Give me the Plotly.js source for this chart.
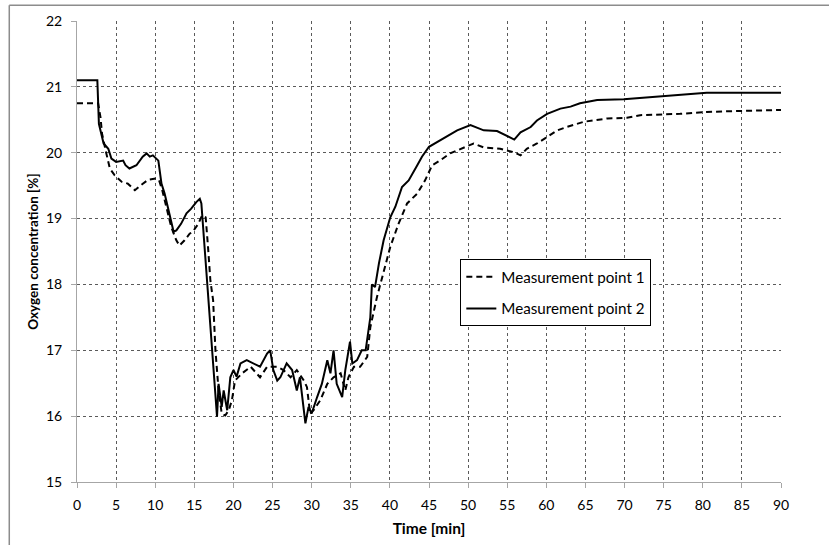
<!DOCTYPE html>
<html>
<head>
<meta charset="utf-8">
<script src="https://cdn.plot.ly/plotly-3.0.1.min.js"></script>
<style>
  html, body { margin: 0; padding: 0; background: #fff; }
  #chart { width: 829px; height: 545px; }
</style>
</head>
<body>
<div id="chart"></div>
<script>
// Measurement point 1 (dashed)
const t1 = [0, 2.7, 3.0, 3.2, 3.65, 4.2, 4.8, 5.7, 6.5, 7.4, 8.2, 9.1, 10.1, 10.5, 10.9, 11.4, 12.05, 12.7, 13.1, 13.75, 14.4, 14.8, 15.5, 16.0, 16.45, 16.75, 17.05, 17.4, 17.7, 18.1, 18.5, 18.95, 19.4, 19.8, 20.2, 21.1, 22.2, 23.4, 24.3, 25.6, 26.4, 27.3, 28.1, 29.0, 29.4, 29.8, 30.25, 31.1, 32.0, 32.8, 33.7, 34.3, 34.7, 35.4, 36.2, 37.1, 37.5, 38.35, 39.2, 40.05, 41.1, 42.2, 43.5, 44.5, 45.4, 46.4, 47.7, 49.0, 50.7, 52.0, 54.1, 55.8, 56.7, 57.5, 58.8, 60.1, 61.4, 62.6, 64.8, 67.8, 70.3, 72.0, 74.6, 77.1, 80.5, 84.8, 90];
const y1 = [20.75, 20.75, 20.54, 20.29, 20.04, 19.76, 19.66, 19.56, 19.53, 19.43, 19.51, 19.59, 19.61, 19.58, 19.43, 19.18, 18.87, 18.67, 18.59, 18.67, 18.77, 18.80, 18.92, 19.05, 19.02, 18.57, 18.06, 17.76, 17.0, 16.39, 16.04, 16.01, 16.09, 16.24, 16.54, 16.65, 16.75, 16.59, 16.75, 16.75, 16.70, 16.59, 16.70, 16.54, 16.44, 16.04, 16.09, 16.24, 16.49, 16.59, 16.65, 16.39, 16.59, 16.75, 16.75, 16.90, 17.35, 17.81, 18.2, 18.57, 18.92, 19.23, 19.38, 19.58, 19.81, 19.88, 19.99, 20.06, 20.14, 20.08, 20.06, 20.01, 19.96, 20.06, 20.14, 20.24, 20.34, 20.39, 20.47, 20.52, 20.53, 20.57, 20.58, 20.59, 20.62, 20.63, 20.65];

// Measurement point 2 (solid)
const t2 = [0, 2.6, 2.8, 3.1, 3.4, 4.0, 4.4, 5.0, 5.9, 6.2, 6.7, 7.6, 8.4, 8.9, 9.3, 9.7, 10.4, 10.8, 11.2, 11.6, 12.1, 12.35, 12.7, 13.3, 14.0, 14.6, 15.25, 15.7, 15.9, 16.3, 16.65, 17.0, 17.5, 17.9, 18.1, 18.5, 18.75, 19.2, 19.6, 20.0, 20.4, 20.9, 21.7, 22.6, 23.4, 24.3, 24.7, 25.1, 25.6, 26.0, 26.8, 27.5, 28.1, 28.5, 29.0, 29.2, 29.6, 30.0, 30.7, 31.3, 32.0, 32.4, 32.8, 33.2, 33.9, 34.3, 34.9, 35.2, 35.8, 36.4, 36.9, 37.5, 37.7, 38.1, 38.6, 39.2, 40.05, 40.7, 41.55, 42.4, 43.5, 44.1, 45.0, 46.0, 47.3, 48.6, 50.3, 52.0, 53.7, 55.0, 55.9, 56.7, 58.0, 58.8, 60.1, 61.8, 63.1, 64.3, 66.5, 69.9, 72.9, 75.4, 78.0, 80.5, 84.8, 90];
const y2 = [21.1, 21.1, 20.44, 20.29, 20.14, 20.06, 19.91, 19.86, 19.88, 19.81, 19.76, 19.81, 19.94, 19.99, 19.94, 19.96, 19.88, 19.53, 19.38, 19.18, 18.92, 18.80, 18.82, 18.92, 19.08, 19.15, 19.25, 19.30, 19.23, 18.57, 17.96, 17.5, 16.6, 15.99, 16.49, 16.14, 16.39, 16.09, 16.59, 16.70, 16.6, 16.80, 16.85, 16.80, 16.75, 16.95, 17.0, 16.70, 16.54, 16.59, 16.80, 16.70, 16.39, 16.59, 16.14, 15.89, 16.14, 16.04, 16.29, 16.49, 16.85, 16.65, 17.0, 16.49, 16.29, 16.70, 17.13, 16.80, 16.85, 17.0, 17.0, 17.50, 18.0, 17.96, 18.32, 18.67, 19.02, 19.18, 19.48, 19.58, 19.81, 19.94, 20.09, 20.16, 20.26, 20.34, 20.42, 20.34, 20.33, 20.26, 20.20, 20.31, 20.39, 20.49, 20.59, 20.67, 20.70, 20.75, 20.80, 20.81, 20.84, 20.87, 20.89, 20.91, 20.91, 20.91];

const seriesNames = ["Measurement point 1", "Measurement point 2"];
const xTicks = [0, 5, 10, 15, 20, 25, 30, 35, 40, 45, 50, 55, 60, 65, 70, 75, 80, 85, 90];
const yTicks = [15, 16, 17, 18, 19, 20, 21, 22];

const FONT = "Lato, 'Open Sans', sans-serif";

const traces = [
  { x: t1, y: y1, name: seriesNames[0], type: "scatter", mode: "lines",
    legendgroup: "g1",
    line: { color: "#000", width: 2, dash: "6px,4px" } },
  { x: t2, y: y2, name: seriesNames[1], type: "scatter", mode: "lines",
    legendgroup: "g2",
    line: { color: "#000", width: 2 } }
];

const axisCommon = {
  showgrid: true, gridcolor: "#5a5a5a", griddash: "dot", gridwidth: 1,
  showline: true, linecolor: "#a6a6a6", linewidth: 1,
  ticks: "outside", ticklen: 5, tickcolor: "#a6a6a6",
  zeroline: false,
  tickfont: { family: FONT, size: 14, color: "#000" }
};

const layout = {
  width: 829, height: 545,
  margin: { l: 76.7, r: 48.3, t: 20.7, b: 63.3 },
  paper_bgcolor: "#fff", plot_bgcolor: "#fff",
  showlegend: true,
  legend: {
    x: 0.5445, y: 0.483, xanchor: "left", yanchor: "top",
    bordercolor: "#000", borderwidth: 1, bgcolor: "#fff",
    font: { family: FONT, size: 15.2, color: "#000" },
    tracegroupgap: 9, traceorder: "grouped"
  },
  xaxis: Object.assign({}, axisCommon, {
    range: [0, 90], tickvals: xTicks, ticktext: xTicks.map(String),
    ticklabelstandoff: 5,
    title: { text: "<b>Time [min]</b>", font: { family: FONT, size: 15.5, color: "#000" }, standoff: 11 }
  }),
  yaxis: Object.assign({}, axisCommon, {
    range: [15, 22], tickvals: yTicks, ticktext: yTicks.map(String),
    ticklabelstandoff: 6,
    title: { text: "<b>Oxygen concentration [%]</b>", font: { family: FONT, size: 13.5, color: "#000" }, standoff: 4 }
  }),
  shapes: [
    { type: "line", xref: "paper", yref: "paper", x0: -0.0962, x1: -0.0962, y0: -0.3, y1: 1.034,
      line: { color: "#8c8c8c", width: 1.5 } },
    { type: "line", xref: "paper", yref: "paper", x0: -0.0962, x1: 1.2, y0: 1.034, y1: 1.034,
      line: { color: "#8c8c8c", width: 1.5 } }
  ]
};

Plotly.newPlot("chart", traces, layout, { displayModeBar: false, staticPlot: true });
</script>
</body>
</html>
